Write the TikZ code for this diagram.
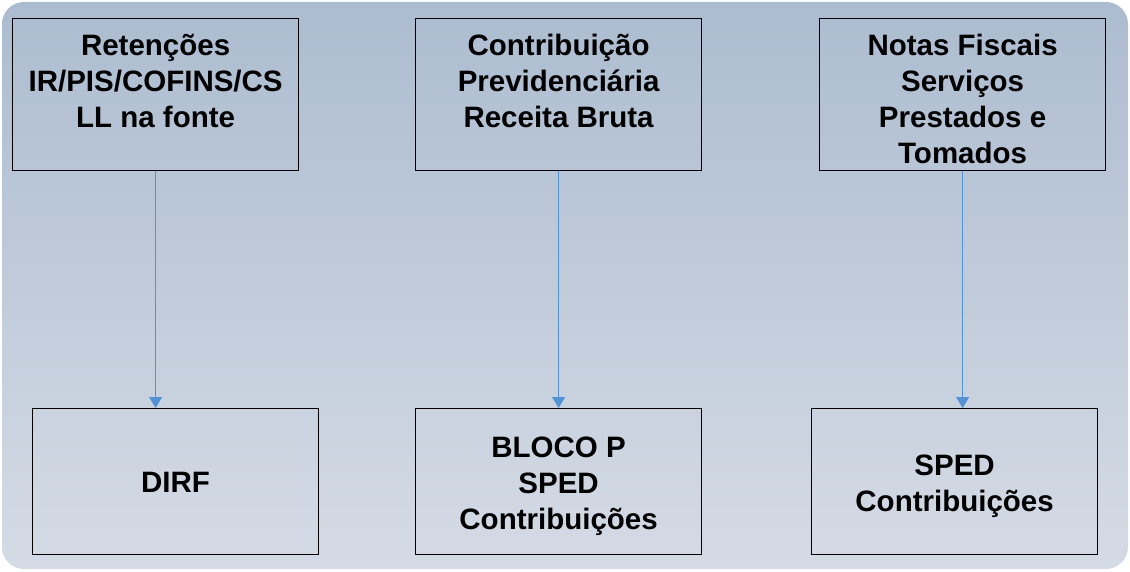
\documentclass[tikz,border=0pt]{standalone}
\usepackage{fontspec}
\setmainfont{Liberation Sans}
\usetikzlibrary{arrows.meta}

\definecolor{bgtop}{RGB}{172,188,208}
\definecolor{bgbottom}{RGB}{213,219,229}
\definecolor{linkblue}{RGB}{84,146,214}

\tikzset{
  topbox/.style={shape=rectangle,draw,line width=1.2pt,inner sep=0pt,
    minimum width=286pt,minimum height=152pt,anchor=north west,
    font=\fontsize{29.5}{36}\bfseries},
  botbox/.style={shape=rectangle,draw,line width=1.2pt,inner sep=0pt,
    minimum width=286pt,minimum height=146pt,anchor=north west,
    font=\fontsize{29.5}{36}\bfseries},
  link/.style={draw=linkblue,line width=1.4pt,-{Triangle[width=13pt,length=11pt]}}
}
\newcommand{\toptext}[1]{\parbox[c][150pt][t]{280pt}{\centering\vspace*{15pt}#1}}
\newcommand{\bottext}[2][10pt]{\parbox[c][140pt][c]{280pt}{\centering\vspace*{#1}#2}}

\begin{document}
\begin{tikzpicture}[x=1pt,y=1pt]
\useasboundingbox (0,0) rectangle (1130,571);
\shade[top color=bgtop,bottom color=bgbottom,rounded corners=22pt]
  (2,2) rectangle (1128,569);

% upper row
\node[topbox] (ret) at (12,553) {\toptext{Retenções\\IR/PIS/COFINS/CS\\LL na fonte}};
\node[topbox] (prev) at (415,553) {\toptext{Contribuição\\Previdenciária\\Receita Bruta}};
\node[topbox] (nf) at (819,553) {\toptext{Notas Fiscais\\Serviços\\Prestados e\\Tomados}};

% lower row
\node[botbox] (dirf) at (32,163) {\bottext[2pt]{DIRF}};
\node[botbox] (blocop) at (415,163) {\bottext{BLOCO P\\SPED\\Contribuições}};
\node[botbox] (sped) at (811,163) {\bottext{SPED\\Contribuições}};

\draw[link] (ret.south) -- (ret.south |- dirf.north);
\draw[link] (prev.south) -- (prev.south |- blocop.north);
\draw[link] (nf.south) -- (nf.south |- sped.north);
\end{tikzpicture}
\end{document}
